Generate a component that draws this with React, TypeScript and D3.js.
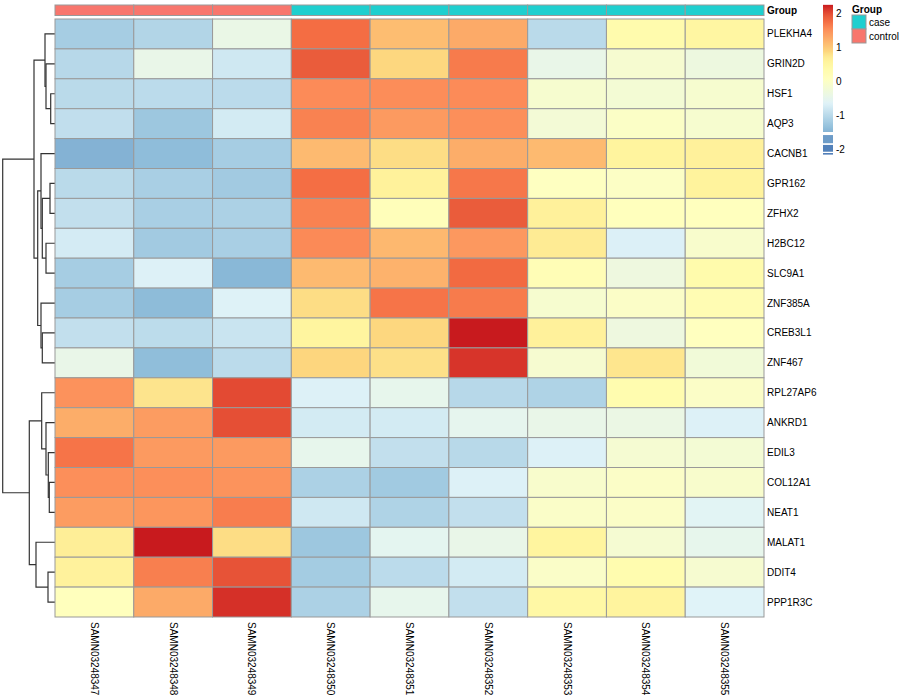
import React from "react";
import * as d3 from "d3";

const genes = [
  "PLEKHA4", "GRIN2D", "HSF1", "AQP3", "CACNB1", "GPR162", "ZFHX2", "H2BC12",
  "SLC9A1", "ZNF385A", "CREB3L1", "ZNF467", "RPL27AP6", "ANKRD1", "EDIL3",
  "COL12A1", "NEAT1", "MALAT1", "DDIT4", "PPP1R3C",
];
const samples = [
  "SAMN03248347", "SAMN03248348", "SAMN03248349", "SAMN03248350", "SAMN03248351",
  "SAMN03248352", "SAMN03248353", "SAMN03248354", "SAMN03248355",
];
const sampleGroups = ["control", "control", "control", "case", "case", "case", "case", "case", "case"];
const groupLevels = ["case", "control"];
const groupColors = ["#1FCFCF", "#F8766D"];

// z-scores, one row per gene, columns in sample order
const zScores: number[][] = [
  [-1.18, -1.07, -0.42, 1.75, 1.09, 1.26, -1.0, 0.33, 0.5],
  [-1.03, -0.45, -0.81, 1.9, 0.86, 1.65, -0.45, -0.15, -0.34],
  [-1.0, -0.99, -0.99, 1.53, 1.52, 1.53, -0.13, -0.2, -0.13],
  [-0.94, -1.27, -0.77, 1.6, 1.4, 1.5, -0.22, -0.02, -0.13],
  [-1.5, -1.4, -1.18, 1.12, 0.82, 1.23, 1.12, 0.55, 0.6],
  [-1.0, -1.16, -1.22, 1.74, 0.59, 1.68, 0.05, 0.0, 0.57],
  [-0.93, -1.16, -1.13, 1.6, 0.15, 1.9, 0.6, 0.1, 0.08],
  [-0.76, -1.22, -1.16, 1.54, 1.14, 1.42, 0.7, -0.69, -0.1],
  [-1.18, -0.68, -1.45, 1.12, 1.19, 1.78, 0.2, -0.33, 0.35],
  [-1.18, -1.41, -0.67, 0.82, 1.7, 1.65, -0.13, -0.03, 0.25],
  [-0.93, -0.98, -0.86, 0.53, 0.86, 2.24, 0.6, -0.33, 0.07],
  [-0.45, -1.39, -0.99, 0.87, 0.8, 2.12, -0.15, 0.75, -0.25],
  [1.47, 0.76, 2.0, -0.68, -0.5, -1.03, -1.1, 0.3, -0.03],
  [1.23, 1.38, 1.97, -0.77, -0.77, -0.52, -0.45, -0.4, -0.68],
  [1.7, 1.4, 1.4, -0.5, -0.93, -1.02, -0.68, -0.17, -0.2],
  [1.5, 1.5, 1.46, -1.13, -1.23, -0.68, -0.1, -0.03, -0.1],
  [1.38, 1.44, 1.63, -0.81, -1.1, -0.93, -0.05, -0.03, -0.6],
  [0.65, 2.24, 0.82, -1.27, -0.55, -0.45, 0.53, -0.17, -0.5],
  [0.58, 1.62, 1.95, -1.2, -0.99, -0.77, -0.05, 0.3, -0.15],
  [0.1, 1.26, 2.14, -1.13, -0.5, -0.93, 0.45, 0.55, -0.65],
];

const paletteStops = [-2.1, -1.377, -0.653, 0.07, 0.35, 0.55, 0.7, 0.8, 0.87, 1.517, 1.75, 1.9, 2.0, 2.12, 2.24];
const paletteColors = [
  "#4575b4", "#91bfdb", "#e0f3f8", "#ffffbf", "#fffbac", "#fff49e", "#feeb94", "#fde088",
  "#fdd67e", "#fc8d59", "#f46d43", "#ea5c3b", "#e34a33", "#d7342a", "#c81a1e",
];
const legendTicks = [-2, -1, 0, 1, 2];

// row dendrogram merges: [childA, childB, height]; strings are genes, numbers refer to earlier merges
const rowMerges: [string | number, string | number, number][] = [
  ["HSF1", "AQP3", 4.3],
  ["GRIN2D", 0, 9],
  ["PLEKHA4", 1, 10],
  ["GPR162", "ZFHX2", 5],
  ["H2BC12", "SLC9A1", 9],
  [3, 4, 12.7],
  ["CACNB1", 5, 14],
  ["CREB3L1", "ZNF467", 12.7],
  ["ZNF385A", 7, 14],
  [6, 8, 17.3],
  [2, 9, 21],
  ["COL12A1", "NEAT1", 5.7],
  ["EDIL3", 11, 6.7],
  ["ANKRD1", 12, 9],
  ["RPL27AP6", 13, 13.3],
  ["DDIT4", "PPP1R3C", 7],
  ["MALAT1", 15, 19],
  [14, 16, 25.7],
  [10, 17, 52.3],
];

const FONT = "'Liberation Sans', Arial, Helvetica, sans-serif";

export default function App() {
  const x = d3.scaleBand<string>().domain(samples).range([55, 764]).padding(0);
  const y = d3.scaleBand<string>().domain(genes).range([19, 617]).padding(0);
  const hx = d3.scaleLinear().domain([0, 52.3]).range([55, 2.7]);
  const color = d3.scaleLinear<string>().domain(paletteStops).range(paletteColors).clamp(true);
  const groupColor = d3.scaleOrdinal<string, string>().domain(groupLevels).range(groupColors);
  const ly = d3.scaleLinear().domain([-2, 2]).range([149, 13]);

  // dendrogram
  const nodes: { y: number; h: number }[] = [];
  const pos = (c: string | number) =>
    typeof c === "string" ? { y: (y(c) as number) + y.bandwidth() / 2, h: 0 } : nodes[c];
  const paths: string[] = [];
  rowMerges.forEach(([a, b, h]) => {
    const pa = pos(a);
    const pb = pos(b);
    const nx = hx(h);
    paths.push(`M${hx(pa.h)},${pa.y}H${nx}V${pb.y}H${hx(pb.h)}`);
    nodes.push({ y: (pa.y + pb.y) / 2, h });
  });

  const gradTop = 2.24;
  const gradBot = -1.5;
  const gradStops = d3.range(0, 61).map((i) => {
    const v = gradTop - ((gradTop - gradBot) * i) / 60;
    return { off: i / 60, c: color(v) };
  });

  return (
    <svg
      width={900}
      height={700}
      style={{ position: "absolute", left: 0, top: 0, background: "#fff" }}
      fontFamily={FONT}
    >
      <defs>
        <linearGradient id="lg" x1="0" y1="0" x2="0" y2="1">
          {gradStops.map((s, i) => (
            <stop key={i} offset={s.off} stopColor={s.c} />
          ))}
        </linearGradient>
      </defs>
      <rect width={900} height={700} fill="#fff" />

      {/* dendrogram */}
      <g fill="none" stroke="#333" strokeWidth={1.2}>
        {paths.map((d, i) => (
          <path key={i} d={d} />
        ))}
      </g>

      {/* annotation bar */}
      <g>
        {samples.map((s, j) => (
          <rect
            key={s}
            x={x(s)}
            y={5}
            width={x.bandwidth()}
            height={10.5}
            fill={groupColor(sampleGroups[j])}
            stroke="#999"
            strokeWidth={1}
          />
        ))}
        <text x={767} y={10.5} fontSize={10} fontWeight="bold" dominantBaseline="central">
          Group
        </text>
      </g>

      {/* heatmap cells */}
      <g>
        {genes.map((g, i) =>
          samples.map((s, j) => (
            <rect
              key={g + s}
              x={x(s)}
              y={y(g)}
              width={x.bandwidth()}
              height={y.bandwidth()}
              fill={color(zScores[i][j])}
              stroke="#999"
              strokeWidth={1}
            />
          ))
        )}
      </g>

      {/* row labels */}
      <g fontSize={10}>
        {genes.map((g) => (
          <text key={g} x={767} y={(y(g) as number) + y.bandwidth() / 2} dominantBaseline="central">
            {g}
          </text>
        ))}
      </g>

      {/* column labels */}
      <g fontSize={10}>
        {samples.map((s) => {
          const cx = (x(s) as number) + x.bandwidth() / 2;
          return (
            <text
              key={s}
              transform={`translate(${cx},622) rotate(90)`}
              dominantBaseline="central"
            >
              {s}
            </text>
          );
        })}
      </g>

      {/* color legend */}
      <g>
        <rect x={823} y={ly(gradTop)} width={10} height={ly(gradBot) - ly(gradTop)} fill="url(#lg)" />
        <rect x={823} y={ly(-1.59)} width={10} height={ly(-1.83) - ly(-1.59)} fill={color(-1.72)} />
        <rect x={823} y={ly(-1.88)} width={10} height={ly(-2.08) - ly(-1.88)} fill={color(-1.98)} />
        <rect x={823} y={ly(-2.12)} width={10} height={1.5} fill={color(-2.1)} />
        {legendTicks.map((t) => (
          <text key={t} x={836} y={ly(t)} fontSize={10} dominantBaseline="central">
            {t}
          </text>
        ))}
      </g>

      {/* group legend */}
      <g>
        <text x={852} y={9} fontSize={10} fontWeight="bold" dominantBaseline="central">
          Group
        </text>
        {groupLevels.map((g, i) => (
          <g key={g}>
            <rect x={852} y={15 + i * 14} width={14} height={14} fill={groupColor(g)} stroke="#999" strokeWidth={1} />
            <text x={869} y={22 + i * 14} fontSize={10} dominantBaseline="central">
              {g}
            </text>
          </g>
        ))}
      </g>
    </svg>
  );
}
